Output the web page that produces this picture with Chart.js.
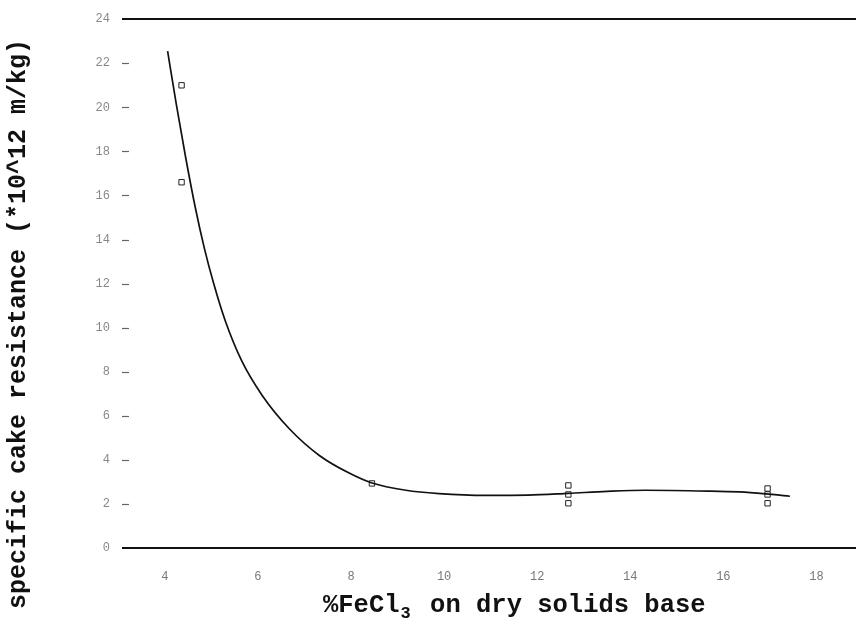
<!DOCTYPE html>
<html>
<head>
<meta charset="utf-8">
<script src="https://cdn.jsdelivr.net/npm/chart.js@4/dist/chart.umd.min.js"></script>
<style>
  html, body { margin: 0; padding: 0; background: #fff; }
  #wrap { width: 862px; height: 626px; }
</style>
</head>
<body>
<div id="wrap"><canvas id="chart" width="862" height="626"></canvas></div>
<script>
// Data
const curveX = [4.06, 4.25, 4.45, 4.65, 4.85, 5.05, 5.30, 5.65, 6.10, 6.68, 7.32, 7.96, 8.45, 9.18, 9.89, 10.9, 11.8, 12.67, 13.5, 14.32, 15.73, 16.46, 17.43];
const curveY = [22.55, 20.1, 17.7, 15.5, 13.6, 12.0, 10.3, 8.5, 6.9, 5.4, 4.2, 3.4, 2.95, 2.62, 2.47, 2.39, 2.40, 2.48, 2.57, 2.62, 2.58, 2.54, 2.35];

const markX = [4.36, 4.36, 8.45, 12.67, 12.67, 12.67, 16.95, 16.95, 16.95];
const markY = [21.0, 16.6, 2.93, 2.84, 2.43, 2.03, 2.70, 2.43, 2.03];

const xTicks = [4, 6, 8, 10, 12, 14, 16, 18];
const yTicks = [0, 2, 4, 6, 8, 10, 12, 14, 16, 18, 20, 22, 24];

const xTitleParts = ["%FeCl", "3", " on dry solids base"];
const yTitle = "specific cake resistance (*10^12 m/kg)";

const MONO = '"Liberation Mono", "DejaVu Sans Mono", monospace';

// Titles + small inward tick marks on the left side
const extras = {
    id: "extras",
    afterDraw(chart) {
        const ctx = chart.ctx;
        const y = chart.scales.y;
        const area = chart.chartArea;

        // short tick marks inside the plot
        ctx.save();
        ctx.strokeStyle = "#666";
        ctx.lineWidth = 1.2;
        yTicks.forEach(v => {
            if (v === 0 || v === 24) return;
            const py = Math.round(y.getPixelForValue(v)) + 0.5;
            ctx.beginPath();
            ctx.moveTo(area.left, py);
            ctx.lineTo(area.left + 7, py);
            ctx.stroke();
        });
        ctx.restore();

        // y title (rotated)
        ctx.save();
        ctx.fillStyle = "#111";
        ctx.font = "bold 25px " + MONO;
        ctx.translate(19, 324);
        ctx.rotate(-Math.PI / 2);
        ctx.textAlign = "center";
        ctx.textBaseline = "middle";
        ctx.fillText(yTitle, 0, 0);
        ctx.restore();

        // x title with subscript 3
        ctx.save();
        ctx.fillStyle = "#111";
        ctx.textBaseline = "alphabetic";
        ctx.textAlign = "left";
        let px = 323;
        const base = 612;
        ctx.font = "bold 25.5px " + MONO;
        const cell = ctx.measureText("M").width;
        ctx.fillText(xTitleParts[0], px, base);
        px += ctx.measureText(xTitleParts[0]).width;
        ctx.font = "bold 17px " + MONO;
        ctx.fillText(xTitleParts[1], px + 1, base + 6);
        px += cell;
        ctx.font = "bold 25.5px " + MONO;
        ctx.fillText(xTitleParts[2], px, base);
        ctx.restore();
    }
};

new Chart(document.getElementById("chart"), {
    data: {
        datasets: [
            {
                type: "line",
                data: curveX.map((x, i) => ({ x: x, y: curveY[i] })),
                borderColor: "#111",
                borderWidth: 1.7,
                pointRadius: 0,
                fill: false,
                cubicInterpolationMode: "monotone"
            },
            {
                type: "scatter",
                data: markX.map((x, i) => ({ x: x, y: markY[i] })),
                pointStyle: "rect",
                pointRadius: 3.8,
                borderColor: "#222",
                borderWidth: 1,
                backgroundColor: "rgba(0,0,0,0)"
            }
        ]
    },
    options: {
        responsive: false,
        animation: false,
        layout: { padding: { left: 0, top: 16, right: 6, bottom: 0 } },
        plugins: { legend: { display: false }, tooltip: { enabled: false } },
        scales: {
            x: {
                type: "linear",
                min: 3.08,
                max: 18.85,
                afterBuildTicks: s => { s.ticks = xTicks.map(v => ({ value: v })); },
                afterFit: s => { s.height = 78; },
                grid: { display: false },
                border: { display: false },
                ticks: { color: "#777", padding: 14, font: { family: MONO, size: 12 } }
            },
            y: {
                type: "linear",
                min: 0,
                max: 24,
                afterBuildTicks: s => { s.ticks = yTicks.map(v => ({ value: v })); },
                afterFit: s => { s.width = 122; },
                grid: {
                    drawTicks: false,
                    lineWidth: 2,
                    color: c => (c.tick && (c.tick.value === 0 || c.tick.value === 24)) ? "#111" : "rgba(0,0,0,0)"
                },
                border: { display: false },
                ticks: { color: "#888", padding: 12, font: { family: MONO, size: 12 } }
            }
        }
    },
    plugins: [extras]
});
</script>
</body>
</html>
